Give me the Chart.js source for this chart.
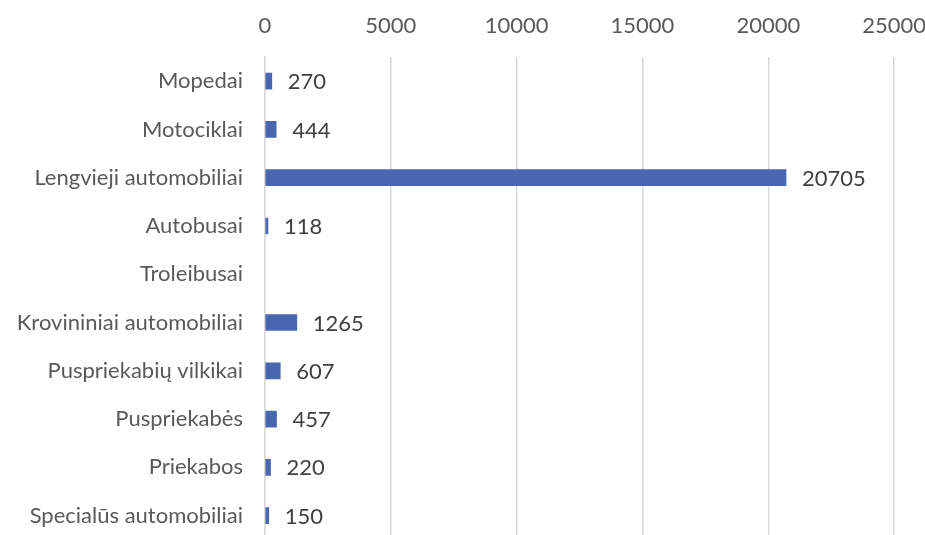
<!DOCTYPE html>
<html><head><meta charset="utf-8">
<script src="https://cdn.jsdelivr.net/npm/chart.js@4"></script>
<style>html,body{margin:0;padding:0;background:#fff;overflow:hidden;width:925px;height:535px}#wrap{width:944px;height:575px}</style>
</head><body><div id="wrap"><canvas id="c" width="944" height="575"></canvas></div>
<script>
const categories = ["Mopedai","Motociklai","Lengvieji automobiliai","Autobusai","Troleibusai","Krovininiai automobiliai","Puspriekabių vilkikai","Puspriekabės","Priekabos","Specialūs automobiliai"];
const values = [270,444,20705,118,null,1265,607,457,220,150];
const xTicks = [0,5000,10000,15000,20000,25000];

const FONT = "Lato, 'Liberation Sans', sans-serif";
const labelPlugin = {
  id:'barLabels',
  afterDatasetsDraw(chart){
    const ctx = chart.ctx;
    const meta = chart.getDatasetMeta(0);
    ctx.save();
    ctx.font = "22px " + FONT;
    ctx.fillStyle = "#404040";
    ctx.textAlign = "left";
    ctx.textBaseline = "middle";
    meta.data.forEach((el,i)=>{
      const v = values[i];
      if (v === null || v === undefined) return;
      ctx.fillText(String(v), el.x + 16, el.y + 1);
    });
    ctx.restore();
  }
};

new Chart(document.getElementById('c'), {
  type:'bar',
  data:{labels:categories, datasets:[{data:values, backgroundColor:'#4966B0', borderWidth:0, barThickness:16}]},
  options:{
    indexAxis:'y', responsive:false, animation:false,
    layout:{padding:0},
    plugins:{legend:{display:false}, tooltip:{enabled:false}},
    scales:{
      x:{position:'top', min:0, max:25000,
         afterBuildTicks(s){ s.ticks = xTicks.map(v=>({value:v})); },
         afterFit(s){ s.height = 57; },
         grid:{color:'#d9d9d9', lineWidth:1.5, drawTicks:false},
         border:{display:false},
         ticks:{color:'#595959', font:{family:FONT,size:22}, padding:18, callback:(v)=>String(v)}},
      y:{afterFit(s){ s.width = 265; },
         grid:{display:false, drawTicks:false},
         border:{display:true, color:'#d9d9d9', width:1.5},
         ticks:{color:'#595959', font:{family:FONT,size:22}, padding:22}}
    }
  },
  plugins:[labelPlugin]
});
</script></body></html>
